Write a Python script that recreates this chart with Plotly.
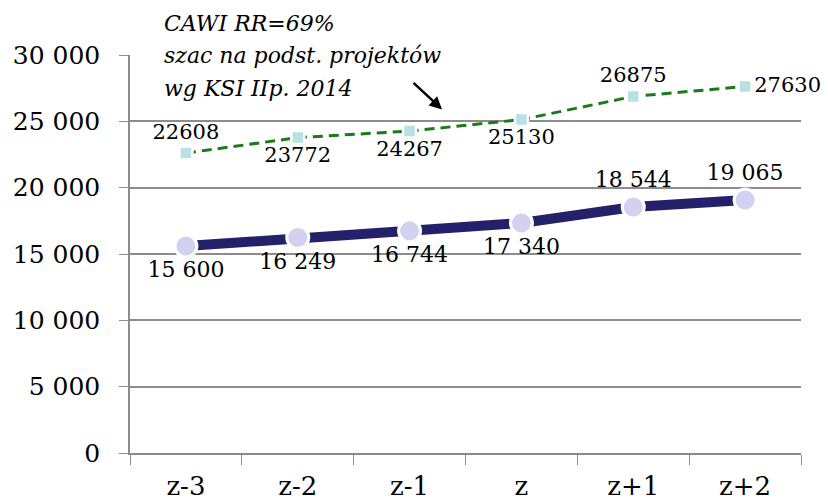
import plotly.graph_objects as go

categories = ["z-3", "z-2", "z-1", "z", "z+1", "z+2"]
cawi_values = [22608, 23772, 24267, 25130, 26875, 27630]
main_values = [15600, 16249, 16744, 17340, 18544, 19065]
main_labels = ["15 600", "16 249", "16 744", "17 340", "18 544", "19 065"]
cawi_labels = ["22608", "23772", "24267", "25130", "26875", "27630"]
y_tickvals = [0, 5000, 10000, 15000, 20000, 25000, 30000]
y_ticktext = ["0", "5 000", "10 000", "15 000", "20 000", "25 000", "30 000"]
note_lines = ["CAWI RR=69%", "szac na podst. projektów", "wg KSI IIp. 2014"]

FONT = "DejaVu Serif"

fig = go.Figure()

fig.add_trace(go.Scatter(
    x=categories, y=cawi_values, mode="lines+markers+text",
    text=cawi_labels,
    textposition=["top center", "bottom center", "bottom center", "bottom center", "top center", "middle right"],
    textfont=dict(family=FONT, size=21, color="black"),
    line=dict(color="#1b7a1b", width=3, dash="10px,6px"),
    marker=dict(symbol="square", size=13, color="#b9e0e2", line=dict(color="white", width=2.5)),
    cliponaxis=False, showlegend=False,
))

fig.add_trace(go.Scatter(
    x=categories, y=main_values, mode="lines+markers+text",
    text=main_labels,
    textposition=["bottom center", "bottom center", "bottom center", "bottom center", "top center", "top center"],
    textfont=dict(family=FONT, size=22, color="black"),
    line=dict(color="#23216a", width=10),
    marker=dict(symbol="circle", size=22, color="#d2d2f0", line=dict(color="white", width=3)),
    cliponaxis=False, showlegend=False,
))

line_shifts = [32, 0, -33]
for line, shift in zip(note_lines, line_shifts):
    fig.add_annotation(
        x=0, y=1.0, xref="paper", yref="paper", xanchor="left", yanchor="middle",
        xshift=32, yshift=shift,
        text=line, align="left", showarrow=False,
        font=dict(family=FONT, size=22, color="black", style="italic"),
    )
fig.add_annotation(
    x=2.29, y=25900, ax=-30, ay=-28, xref="x", yref="y",
    showarrow=True, arrowhead=2, arrowsize=1, arrowwidth=2.5, arrowcolor="black", text="",
)

fig.update_layout(
    width=828, height=503,
    margin=dict(l=130, r=27, t=55, b=50),
    paper_bgcolor="white", plot_bgcolor="white",
    font=dict(family=FONT, size=25, color="black"),
    xaxis=dict(
        showgrid=False, ticks="outside", tickson="boundaries", ticklen=10,
        tickcolor="#8c8c8c", showline=True, linecolor="#8c8c8c", linewidth=1.5,
        tickfont=dict(family=FONT, size=26), range=[-0.5, 5.5],
        ticklabelstandoff=9, automargin=False,
    ),
    yaxis=dict(
        range=[0, 30000], tickvals=y_tickvals, ticktext=y_ticktext,
        showgrid=True, gridcolor="#8c8c8c", gridwidth=1.5,
        ticks="outside", ticklen=9, tickcolor="#8c8c8c",
        showline=True, linecolor="#8c8c8c", linewidth=1.5,
        tickfont=dict(family=FONT, size=25), zeroline=False,
        ticklabelstandoff=14, automargin=False,
    ),
)

fig.write_html(
    "out.html",
    config={"displayModeBar": False},
    post_script="document.body.style.margin='0';document.body.style.overflow='hidden';",
)
